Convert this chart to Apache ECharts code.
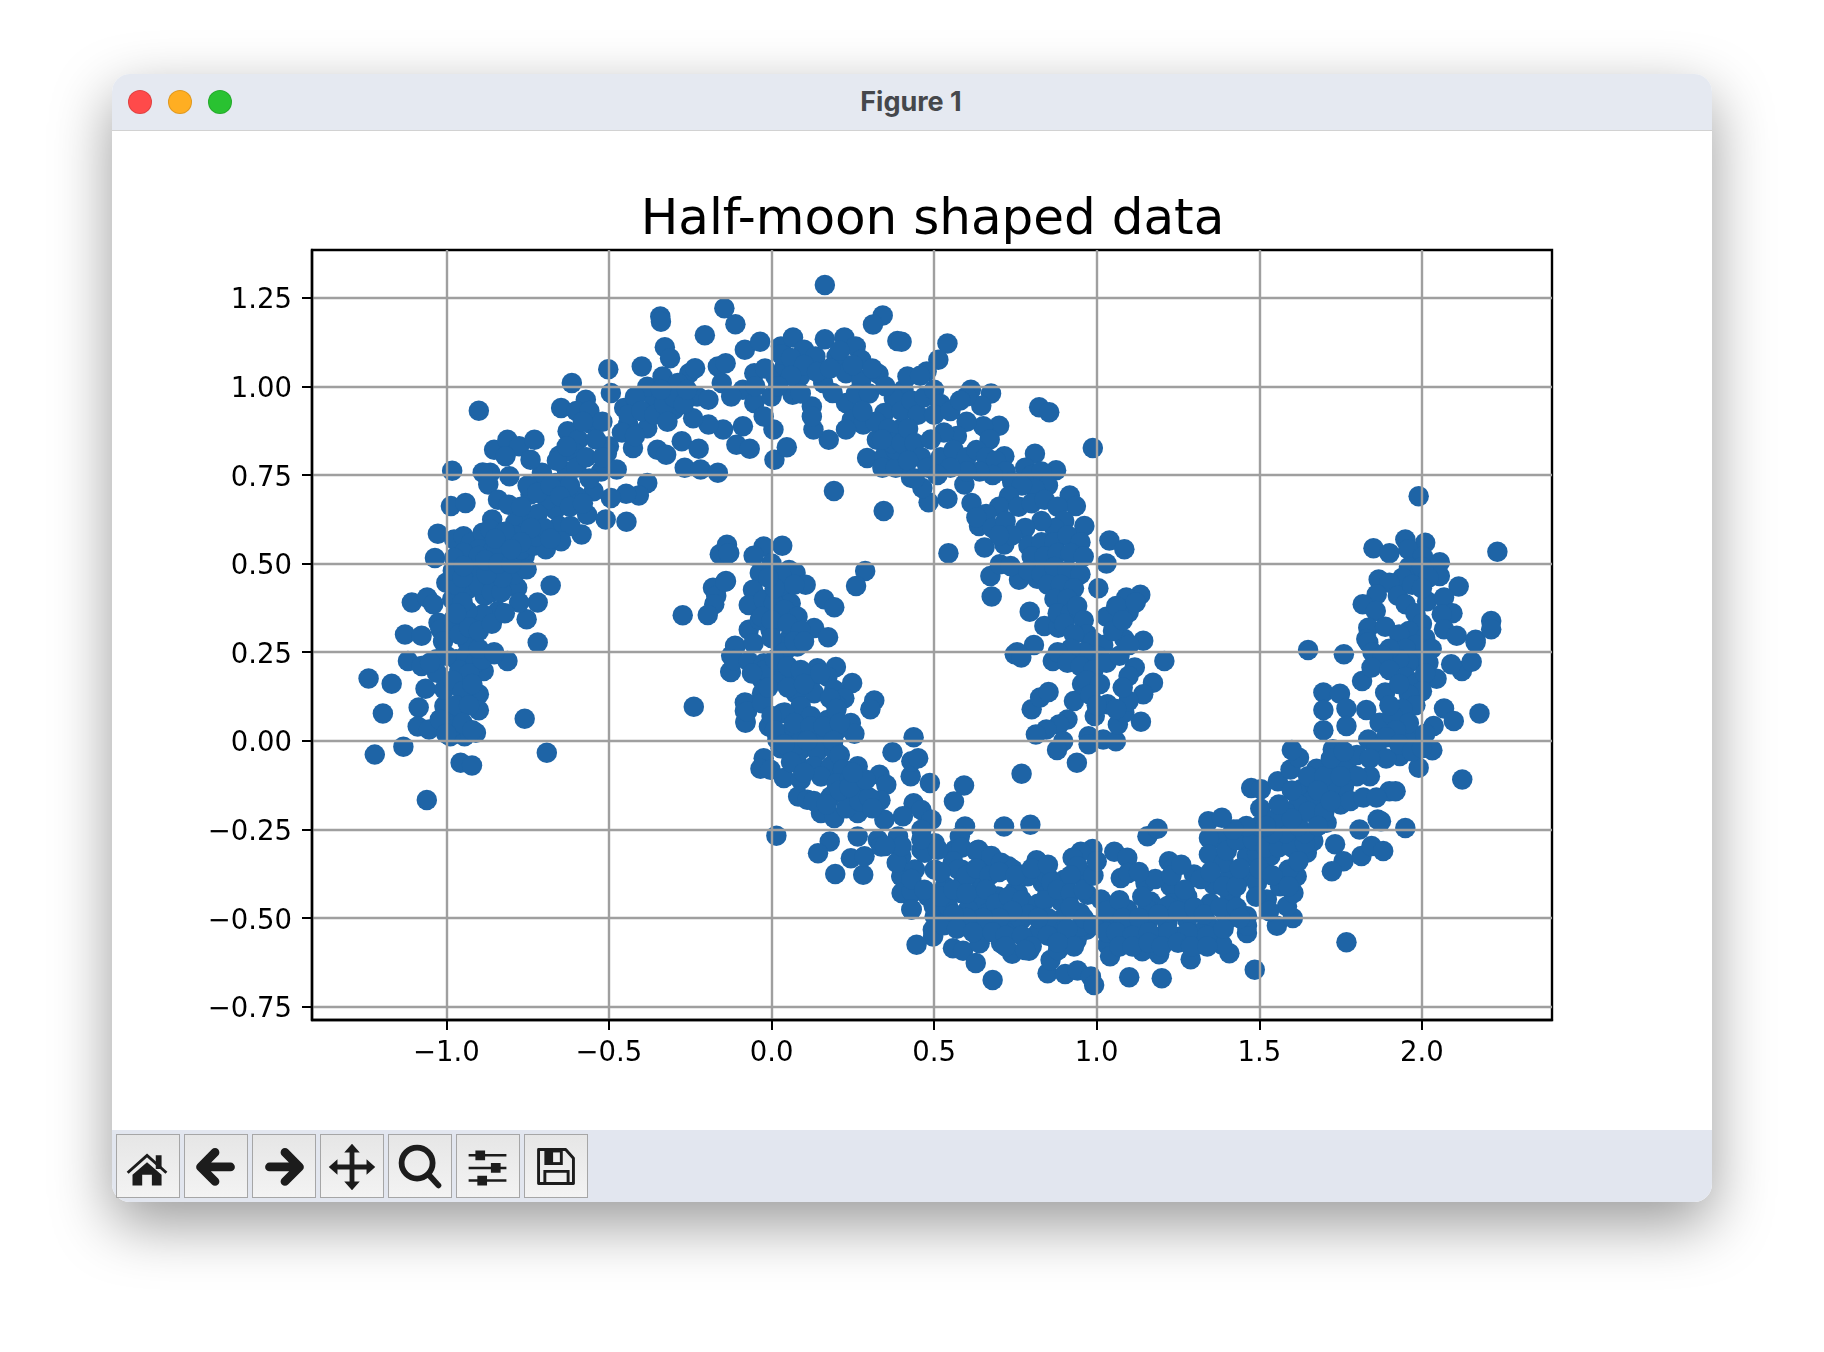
<!DOCTYPE html>
<html>
<head>
<meta charset="utf-8">
<title>Figure 1</title>
<script src="https://cdn.jsdelivr.net/npm/echarts@6/dist/echarts.min.js"></script>
<style>
html, body { margin: 0; padding: 0; background: #fff; width: 1824px; height: 1352px; overflow: hidden; }
#win { position: absolute; left: 112px; top: 74px; width: 1600px; height: 1128px; background: #fff; border-radius: 18px; box-shadow: 0 22px 60px rgba(0,0,0,.4); }
#bar { position: absolute; left: 0; top: 0; right: 0; height: 56px; background: #e5e9f1; border-bottom: 1px solid #d2d2d2; border-radius: 18px 18px 0 0; }
#bar i { position: absolute; top: 16px; width: 22px; height: 22px; border-radius: 50%; border: 1px solid rgba(0,0,0,.12); }
#bar b { position: absolute; left: 0; width: 1598px; top: 11px; text-align: center; font: 700 27px Inter, sans-serif; color: #45474b; }
#tools { position: absolute; left: 0; right: 0; bottom: 0; height: 72px; background: #e2e6ef; border-radius: 0 0 18px 18px; }
#tools svg { position: absolute; top: 4px; width: 62px; height: 62px; border: 1px solid #a6a6a6; background: linear-gradient(#e6e6e6, #f3f3f3); }
#main { position: absolute; left: 0; top: 0; width: 1824px; height: 1352px; }
</style>
</head>
<body>
<div id="win">
  <div id="bar">
    <i style="left:16px;background:#ff4a4a"></i>
    <i style="left:56px;background:#ffae22"></i>
    <i style="left:96px;background:#29c231"></i>
    <b>Figure 1</b>
  </div>
  <div id="tools">
    <svg style="left:4px" viewBox="0 0 64 64"><path d="M11 39L31 21L51 39" fill="none" stroke="#1c1c1c" stroke-width="3"/><path d="M40 21h6v14h-6zM16 41L31 28L46 41V52H36V41H26V52H16Z" fill="#1c1c1c"/></svg>
    <svg style="left:72px" viewBox="0 0 64 64"><path d="M47 33H19M31 18L16 33L31 48" fill="none" stroke="#1c1c1c" stroke-width="9" stroke-linecap="round" stroke-linejoin="round"/></svg>
    <svg style="left:140px" viewBox="0 0 64 64"><path d="M17 33H45M33 18L48 33L33 48" fill="none" stroke="#1c1c1c" stroke-width="9" stroke-linecap="round" stroke-linejoin="round"/></svg>
    <svg style="left:208px" viewBox="0 0 64 64"><path d="M32 14V52M13 33H51" stroke="#1c1c1c" stroke-width="5"/><path d="M32 9L40 18H24ZM32 57L40 48H24ZM8 33L17 25V41ZM56 33L47 25V41Z" fill="#1c1c1c"/></svg>
    <svg style="left:276px" viewBox="0 0 64 64"><circle cx="29" cy="29" r="16" fill="none" stroke="#1c1c1c" stroke-width="6"/><path d="M41 41L51 52" stroke="#1c1c1c" stroke-width="6" stroke-linecap="round"/></svg>
    <svg style="left:344px" viewBox="0 0 64 64"><path d="M12 21H51M12 34H51M12 47H51" stroke="#1c1c1c" stroke-width="2.6"/><path d="M19 16h10v10h-10zM35 29h10v10h-10zM21 42h10v10h-10z" fill="#1c1c1c"/></svg>
    <svg style="left:412px" viewBox="0 0 64 64"><path d="M14 15H42L50 24V50H14Z" fill="none" stroke="#1c1c1c" stroke-width="3" stroke-linejoin="round"/><path d="M20 15H39V31H20Z" fill="#1c1c1c"/><path d="M29 18H36V28H29Z" fill="#eee"/><path d="M20.5 37.5H44.5V50H20.5Z" fill="none" stroke="#1c1c1c" stroke-width="3"/></svg>
  </div>
</div>
<div id="main"></div>
<script>
const xTicks = [-1, -0.5, 0, 0.5, 1, 1.5, 2];
const yTicks = [-0.75, -0.5, -0.25, 0, 0.25, 0.5, 0.75, 1, 1.25];

// points, one list per stretch of each moon
const upperMoonLeft = [
[-1.239,.176],[-1.168,.161],[-1.064,.147],[-1.085,.094],[-1.195,.077],[-1.088,.04],[-1.053,.032],[-1.132,-.017],[-1.22,-.039],[-.956,-.062],[-.921,-.07],[-1.06,-.167],[-.759,.062],[-.691,-.034],
[-1.118,.225],[-1.076,.211],[-1.029,.192],[-.885,.197],[-.812,.225],[-.853,.244],[-.9,.131],[-.9,.086],[-.909,.023],[-.944,.013],[-.988,.013],[-1.006,.051],[-.971,.06],[-1.006,.098],[-.953,.164],[-.947,.117],[-1.006,.145],
[-.97,.23],[-.94,.24],[-.91,.22],[-.96,.2],[-.93,.19],[-.98,.17],[-.95,.14],[-.92,.16],[-.97,.1],[-.93,.1],[-.98,.04],[-.95,.05],[-.92,.03],[-1.02,.06],[-1.0,.02],[-1.03,.23],[-1.0,.24],[-1.05,.22],[-.89,.23],
[-1.127,.30],[-1.076,.296],[-1.106,.39],[-1.059,.404],[-1.04,.385],[-1.024,.333],[-1.035,.516],[-1.026,.584],[-.986,.662],[-.941,.671],[-.982,.762],[-.90,.931],[-.614,1.009],[-.502,1.048],
[-.567,.638],[-.584,.582],[-.51,.624],[-.446,.618],[-.679,.438],[-.719,.39],[-.753,.343],[-.719,.277],
[-.976,.568],[-.947,.577],[-.924,.559],[-.888,.587],[-.859,.624],[-.865,.596],[-.9,.54],[-.947,.53],[-.976,.516],[-1,.446],[-.935,.427],[-.982,.315],[-.935,.278],[-.9,.26],[-.853,.25],
[-.782,.432],[-.776,.39],[-.841,.366],[-.882,.409],[-.888,.357],[-.935,.366],[-.982,.399],[-1.018,.315],[-.98,.34],[-1.01,.28],[-.96,.3],[-.93,.32],[-.9,.31],[-.86,.33],[-.82,.36],[-.97,.44],[-.95,.39],[-.92,.47],[-.9,.44],[-.86,.42],[-.83,.42],[-.79,.47],[-.98,.48],[-.95,.46],[-.97,.36],
[-.759,.521],[-.806,.54],[-.853,.54],[-.753,.484],[-.829,.46],[-.876,.469],[-.9,.521],[-.947,.493],[-.88,.51],[-.84,.5],[-.8,.5],[-.77,.54],[-.73,.55],
[-.647,.939],[-.571,.962],[-.494,.981],[-.453,.939],[-.627,.873],[-.559,.896],[-.594,.849],[-.653,.804],[-.606,.812],[-.5,.831],[-.506,.812],[-.426,.826],
[-.382,.727],[-.408,.692],[-.447,.697],[-.494,.685],[-.476,.765],[-.524,.76],[-.547,.704],[-.6,.69],[-.665,.727],[-.741,.695],[-.706,.756],[-.806,.746],[-.865,.756],[-.888,.757],[-.871,.723],[-.841,.68],[-.808,.666],[-.788,.615],[-.735,.629],[-.759,.587],[-.665,.652],[-.653,.606],[-.618,.606],[-.647,.563],[-.694,.54],[-.724,.577],
[-.853,.821],[-.812,.849],[-.776,.831],[-.729,.849],[-.818,.803],[-.741,.793],[-.712,.727],[-.629,.76],
[-.6,.93],[-.56,.93],[-.52,.9],[-.54,.85],[-.6,.77],[-.57,.8],[-.52,.8],[-.56,.74],[-.62,.72],[-.69,.68],[-.72,.64],[-.77,.66],[-.75,.72],[-.72,.7],[-.68,.72],[-.65,.69],[-.62,.66],[-.58,.67],[-.7,.6],[-.68,.57],[-.79,.58],[-.82,.59],[-.85,.57],[-.74,.6],[-.77,.56],[-.8,.54],[-.66,.79],[-.63,.83],[-.58,.9]
];

const upperMoonTop = [
[-.399,1.056],[-.342,1.197],[-.34,1.182],[-.328,1.11],[-.205,1.144],[-.145,1.22],[-.111,1.175],[.164,1.286],[.342,1.20],[.312,1.174],[.387,1.128],[.192,.705],[.345,.648],
[-.351,.821],[-.324,.807],[-.276,.845],[-.224,.824],[-.267,.77],[-.218,.765],[-.165,.756],[-.108,.835],[-.067,.824],[.009,.793],[.047,.828],[.176,.849],[.129,.878],[.006,.878],[-.088,.887],[-.149,.878],[-.194,.892],[-.241,.91],[-.3,.934],[-.382,.882],[-.441,.892],[-.365,.971],[-.382,.999],[-.312,1.079],[-.253,1.037],[-.235,1.051],[-.335,1.028],[-.288,1.009],[-.229,.971],[-.194,.962],[-.165,1.056],[-.141,1.065],[-.082,1.103],[-.035,1.126],[-.153,1.009],[-.088,.99],[-.053,1.037],[-.124,.971],[-.053,.953],[-.024,.915],[0,.971],[.012,1.028],[.029,1.112],[.066,1.138],[.1,1.103],[.135,1.084],[.041,1.056],[.088,1.028],[.065,.976],[.124,.943],[.124,.915],[.164,1.133],[.224,1.138],[.259,1.112],[.276,1.075],[.2,1.084],[.229,1.037],[.159,1.009],[.276,1.018],[.329,1.035],[.229,.953],[.188,.981],[.406,.99],[.376,.967],[.347,.925],[.247,.906],[.282,.892],[.229,.878],[.324,.849],[.294,.798],[.347,.803],[.341,.77],[.382,.77],[.429,.742],[.418,1.028],[.394,.878],[.382,.821],
[-.42,.97],[-.44,.92],[-.4,.93],[-.36,.92],[-.33,.95],[-.3,.97],[-.27,.95],[-.26,.99],[-.34,.99],[-.32,.9],[-.46,.87],[-.42,.86],[-.05,1.0],[-.02,1.05],[.03,1.09],[.06,1.08],[.1,1.06],[.06,1.03],[.14,1.04],[.18,1.05],[.21,1.1],[.25,1.06],[.02,1.0],[.09,.98],[.26,.98],[.3,.98],[.32,.9],[.28,.93],[.36,.88],[.37,.84],[.34,.85],[.4,.93],[.4,.84],[.35,1.0],[.31,1.05]
];

const upperMoonRight = [
[.541,1.121],[.513,1.075],[.477,1.042],[.457,1.03],[.40,1.126],[.613,.99],[.675,.98],[.645,.945],[.6,.971],[.823,.941],[.854,.927],[.7,.889],[.651,.887],[.671,.85],[.988,.826],[.716,.803],[.81,.81],[.875,.763],[.917,.692],[.962,.606],[.936,.662],[1.039,.565],[1.085,.54],[1.03,.5],[1.005,.43],[1.134,.412],[1.091,.404],[1.098,.362],[.677,.407],[.673,.465],[.655,.545],[.716,.554],[.544,.529],[.615,.671],[.541,.683],[.483,.673],[.464,.713],[.593,.723],[.761,.454],[.817,.457],[.794,.364],[.839,.324],[.882,.319],[.702,.498],[.735,.493],[.638,.606],[1.143,.282],[1.085,.287],[.807,.27],[.755,.25],
[.8,.089],[.826,.122],[.852,.138],[.748,.244],[.768,.235],[.865,.225],[1.208,.225],[1.117,.207],[1.098,.183],[1.173,.164],[1.143,.131],[1.033,.103],[.93,.112],[.955,.16],[.994,.07],[.91,.06],[.884,.046],[.845,.032],[.813,.018],[.897,-.001],[.878,-.026],[.975,.013],[.975,-.01],[1.02,.004],[1.059,-.001],[1.065,.046],[1.136,.054],[1.085,.079],[1.098,.112],[.939,-.062],[.769,-.093],
[.43,.96],[.45,.92],[.42,.88],[.44,.84],[.47,.97],[.5,.99],[.52,.95],[.5,.92],[.55,.93],[.58,.96],[.6,.9],[.57,.86],[.53,.87],[.49,.85],[.46,.8],[.42,.79],[.44,.74],[.48,.77],[.52,.8],[.56,.82],[.6,.8],[.63,.82],[.66,.8],[.69,.79],[.72,.76],[.68,.75],[.64,.76],[.6,.76],[.55,.77],[.51,.75],[.74,.73],[.78,.77],[.8,.75],[.83,.76],[.85,.72],[.81,.71],[.77,.72],[.73,.69],[.7,.66],[.66,.64],[.63,.63],[.68,.6],[.72,.62],[.76,.66],[.8,.67],[.84,.68],[.88,.66],[.9,.62],[.87,.6],[.83,.62],[.78,.6],[.74,.58],[.7,.58],[.79,.55],[.83,.56],[.87,.56],[.91,.58],[.95,.56],[.8,.52],[.84,.52],[.88,.53],[.92,.53],[.96,.52],[.79,.48],[.83,.47],[.87,.49],[.91,.48],[.95,.47],[.85,.44],[.89,.44],[.93,.43],[.87,.4],[.91,.4],[.88,.36],[.92,.36],[.9,.33],[.94,.38],[.96,.34],[.97,.3],[.93,.3],[.99,.28],[1.03,.35],[1.02,.27],[1.05,.31],[1.06,.38],[1.12,.39],[1.08,.34],[1.0,.24],[.96,.25],[.92,.26],[.88,.25],[.91,.22],[.95,.21],[.99,.2],[1.03,.22],[.97,.17],[1.01,.16],[.98,.13],[1.0,.1],[1.07,.24],[1.1,.27],[1.08,.15],[1.06,.09]
];

const lowerMoonLeft = [
[-.145,.535],[-.13,.53],[-.159,.526],[-.18,.432],[-.17,.409],[-.176,.385],[-.196,.355],[-.273,.354],[-.239,.096],[-.125,.194],[-.124,.24],[-.082,.108],[-.082,.084],[-.08,.051],[-.112,.268],[-.14,.451],
[.033,.55],[-.024,.548],[-.055,.522],[-.137,.553],[-.132,.529],[.054,.482],[.074,.473],[.105,.44],[-.036,.473],[-.142,.449],[.162,.399],[.193,.377],[.131,.318],[.174,.292],[.288,.479],[.26,.437],
[-.057,.426],[-.07,.383],[-.024,.398],[.038,.426],[.059,.388],[.007,.388],[-.07,.313],[-.036,.341],[.028,.341],[.074,.351],[.059,.294],[-.003,.313],[-.111,.266],[-.055,.275],[.079,.266],[.028,.266],
[-.127,.195],[-.116,.228],[-.07,.224],[-.024,.219],[.028,.228],[.141,.205],[.198,.208],[.248,.163],[-.029,.172],[-.029,.134],[.028,.181],[.074,.172],[.121,.172],[.172,.181],[.193,.144],[.224,.12],[.131,.134],[.074,.134],[.316,.114],[.304,.089],
[-.077,.106],[-.08,.054],[-.075,.083],[-.029,.106],[-.008,.04],[.033,.078],[.09,.097],[.121,.069],[.172,.059],[.244,.05],[.255,.02],[.203,.031],[.1,.007],[.152,.017],[.059,.026],[.018,.003],[.028,-.021],
[-.024,-.049],[-.034,-.079],[-.003,-.082],[.038,-.105],[.09,-.025],[.141,-.03],[.193,-.025],[.079,-.063],[.131,-.072],[.182,-.072],[.09,-.11],[.082,-.157],[.11,-.166],[.152,-.101],[.152,-.204],[.193,-.218],[.182,-.157],[.234,-.157],[.265,-.204],[.265,-.148],[.265,-.072],[.275,-.115],[.213,-.101],
[.332,-.096],[.353,-.124],[.335,-.168],[.372,-.032],[.428,-.1],[.43,-.058],[.451,-.049],[.437,.01],[.487,-.119],[.592,-.126],[.561,-.171],[.437,-.176],[.404,-.213],[.461,-.195],[.347,-.223],[.492,-.223],[.015,-.268],
[.0,.5],[.03,.47],[.07,.44],[.01,.43],[-.01,.46],[.04,.37],[.08,.35],[-.03,.35],[.0,.34],[.05,.33],[.09,.31],[.0,.29],[.04,.25],[.07,.28],[.1,.28],[-.02,.2],[.01,.23],[.05,.21],[.09,.2],[-.06,.19],[-.01,.15],[.05,.15],[.1,.16],[.15,.19],[.04,.08],[.0,.07],[.2,.1],[.18,.12],[.2,.09],[.07,.05],[.12,.04],[.16,.04],[.21,.05],[.01,.03],[.08,-.01],[.04,-.01],[.11,.0],[.19,.0],[.06,-.06],[.21,-.04],[.1,-.09],[.22,-.08],[.2,-.12],[.24,-.11],[.13,-.17],[.23,-.19],[.17,-.18],[.21,-.14],[.27,-.17],[.3,-.16],[.24,-.13],[.29,-.11],[.31,-.19],[.25,-.09]
];

const lowerMoonBottom = [
[.179,-.284],[.143,-.317],[.196,-.376],[.282,-.378],[.244,-.331],[.265,-.27],[.327,-.279],[.389,-.27],[.461,-.251],[.502,-.289],[.595,-.242],[.715,-.242],[.796,-.237],[.816,-.34],
[.286,-.326],[.337,-.298],[.399,-.326],[.399,-.382],[.461,-.307],[.43,-.43],[.43,-.476],[.481,-.439],[.502,-.364],[.564,-.307],[.579,-.27],[.636,-.307],[.668,-.326],[.728,-.354],[.585,-.364],[.636,-.382],[.585,-.43],[.667,-.43],[.758,-.43],[.834,-.401],[.894,-.453],[.502,-.495],[.496,-.533],
[.584,-.302],[.63,-.311],[.676,-.325],[.706,-.344],[.742,-.363],[.815,-.337],[.558,-.34],[.4,-.382],[.385,-.344],[.4,-.429],[.431,-.425],[.431,-.476],[.499,-.467],[.497,-.552],[.446,-.575],[.558,-.585],[.589,-.592],[.628,-.627],[.68,-.675],[.601,-.524],[.64,-.571],[.706,-.571],[.74,-.601],[.792,-.592],[.747,-.524],[.849,-.656],[.903,-.658],[.941,-.648],[.982,-.665],[.992,-.689],[.858,-.618],[.881,-.59],[.938,-.563],[.969,-.533],[.88,-.533],[.819,-.542],
[1.1,-.667],[1.2,-.67],[1.289,-.616],[1.408,-.599],[1.386,-.575],[1.462,-.542],[1.462,-.522],[1.486,-.646],[1.554,-.522],[1.603,-.5],[1.033,-.575],[1.041,-.608],[1.14,-.594],[1.192,-.602],[1.309,-.575],
[1.054,-.313],[1.094,-.33],[.987,-.305],[.951,-.313],[.926,-.33],[.962,-.377],[1.074,-.387],[1.097,-.373],[1.15,-.401],[1.165,-.453],[.972,-.434],[.89,-.453],[.949,-.486],[.747,-.425],[1.222,-.34],[1.237,-.358],[1.299,-.377],[1.36,-.406],[1.156,-.269],[1.187,-.248],
[1.462,-.495],[1.401,-.505],[1.34,-.514],[1.278,-.505],[1.217,-.514],[1.156,-.514],[1.094,-.524],[1.033,-.514],[1.319,-.542],[1.258,-.552],[1.197,-.552],[1.135,-.552],[1.074,-.561],
[1.227,-.41],[1.232,-.458],[1.278,-.439],[1.35,-.458],[1.411,-.439],[1.452,-.382],[1.401,-.392],[1.462,-.325],[1.493,-.401],[1.523,-.448],[1.585,-.467],[1.605,-.429],[1.615,-.382],[1.59,-.363],[1.646,-.316],[1.666,-.283],[1.615,-.278],[1.564,-.278],[1.534,-.325],[1.493,-.316],[1.504,-.259],[1.442,-.278],[1.381,-.278],[1.345,-.274],[1.345,-.321],[1.391,-.344],[1.564,-.41],[1.432,-.25],
[1.733,-.292],[1.759,-.34],[1.723,-.368],[1.814,-.325],[1.845,-.297],[1.881,-.311],[1.808,-.25],[1.864,-.222],[1.707,-.231],
[.441,-.363],[.471,-.316],[.4,-.297],[.349,-.297],[.461,-.278],[.512,-.307],[.574,-.363],[.584,-.41],[.533,-.41],[.645,-.401],[.645,-.448],[.696,-.439],[.543,-.467],[.604,-.476],[.665,-.486],[.727,-.486],[.788,-.467],[.849,-.429],[.9,-.392],[.941,-.354],[.849,-.382],[.788,-.382],[.829,-.495],[.89,-.505],[.951,-.524],[.768,-.505],[.686,-.514],[.645,-.533],[1.043,-.467],[1.094,-.476],[1.156,-.476],[1.217,-.467],[1.013,-.448],
[.43,-.39],[.47,-.42],[.52,-.37],[.52,-.44],[.56,-.42],[.6,-.38],[.6,-.43],[.63,-.36],[.67,-.38],[.7,-.37],[.66,-.42],[.69,-.46],[.73,-.44],[.77,-.45],[.82,-.46],[.75,-.38],[.8,-.36],[.85,-.35],[.86,-.4],[.84,-.45],[.88,-.42],[.92,-.38],[.92,-.43],[.92,-.47],[.96,-.42],[.99,-.38],[1.0,-.34],[.96,-.5],[.85,-.5],[.79,-.49],[.74,-.48],[.7,-.5],[.65,-.5],[.6,-.5],[.56,-.49],[.53,-.52],[.57,-.53],[.62,-.54],[.68,-.54],[.72,-.55],[.77,-.55],[.82,-.5],[.85,-.55],[.91,-.53],[.93,-.58],[.88,-.57],[.8,-.58],[.72,-.58],[.78,-.59],[.99,-.52],[1.03,-.48],[1.07,-.45],[1.03,-.54],[1.08,-.5],[1.13,-.5],[1.19,-.49],[1.25,-.48],[1.3,-.47],[1.33,-.49],[1.38,-.47],[1.43,-.47],[1.44,-.5],[1.06,-.54],[1.11,-.55],[1.16,-.54],[1.22,-.54],[1.28,-.54],[1.34,-.55],[1.39,-.53],[1.07,-.58],[1.11,-.58],[1.16,-.57],[1.2,-.58],[1.25,-.57],[1.29,-.58],[1.34,-.58],[1.14,-.44],[1.18,-.39],[1.13,-.37],[1.23,-.38],[1.26,-.35],[1.27,-.42],[1.32,-.39],[1.35,-.37],[1.39,-.41],[1.43,-.41],[1.44,-.36],[1.4,-.31],[1.43,-.28],[1.48,-.28],[1.52,-.3],[1.56,-.3],[1.6,-.3],[1.64,-.29],[1.5,-.36],[1.54,-.38],[1.49,-.44],[1.53,-.48],[1.59,-.41],[1.62,-.34],[1.58,-.26],[1.54,-.26],[1.64,-.26],[1.5,-.24],[1.46,-.24],[1.42,-.25]
];

const lowerMoonRight = [
[1.99,.69],[1.949,.568],[1.851,.543],[1.9,.529],[2.01,.559],[2.232,.533],[1.958,.54],[2.003,.52],[2.055,.504],[1.96,.49],[1.99,.47],[1.94,.46],[2.055,.465],[2.113,.435],[1.867,.455],[1.9,.446],[1.861,.413],[1.818,.385],[1.858,.366],[1.926,.409],[1.95,.385],[2.016,.394],[2.068,.404],[2.094,.36],[2.061,.357],[2.068,.315],[2.107,.296],[2.165,.285],[2.213,.338],[2.213,.315],[1.835,.319],[1.887,.322],[1.829,.287],[1.65,.256],[1.76,.244],[1.835,.277],[1.848,.25],
[2.0,.49],[2.02,.46],[1.97,.44],[2.0,.43],[1.98,.36],[2.0,.33],[1.96,.31],[1.93,.3],[2.01,.29],[1.98,.27],[1.95,.26],[2.03,.26],[1.99,.23],[1.96,.22],[2.02,.22],[1.93,.23],[1.9,.26],[1.88,.24],
[1.816,.169],[1.845,.207],[1.9,.2],[1.829,.087],[1.887,.136],[1.87,.051],[1.835,.004],[1.697,.136],[1.748,.133],[1.697,.087],[1.768,.091],[1.768,.042],[1.697,.03],[2.068,.091],[2.098,.056],[2.177,.077],[2.045,.175],[2.123,.197],[2.153,.223],[2.09,.216],[2.165,.277],[2.032,-.027],[2.036,.042],[1.967,.018],[1.99,-.076],[1.932,-.043],[2.124,-.109],[1.9,-.142],[1.919,-.142],[1.874,-.227],[1.949,-.246],
[1.95,.18],[1.98,.16],[2.01,.19],[2.0,.14],[1.96,.13],[1.93,.16],[1.98,.1],[1.94,.09],[1.91,.07],[1.9,.1],[1.96,.05],[1.92,.03],[1.89,.01],[1.86,-.02],[1.89,-.05],[1.93,-.01],[1.97,-.03],[2.0,-.02],[2.01,.02],
[1.343,-.227],[1.385,-.217],[1.475,-.133],[1.505,-.137],[1.557,-.114],[1.596,-.081],[1.622,-.048],[1.6,-.026],[1.676,-.079],[1.726,-.024],[1.757,-.053],[1.503,-.191],[1.628,-.137],[1.673,-.128],
[1.74,-.09],[1.77,-.08],[1.8,-.04],[1.84,-.05],[1.84,-.1],[1.8,-.1],[1.76,-.13],[1.72,-.13],[1.69,-.16],[1.66,-.17],[1.62,-.18],[1.58,-.2],[1.55,-.22],[1.52,-.24],[1.62,-.24],[1.65,-.2],[1.7,-.2],[1.75,-.18],[1.78,-.17],[1.82,-.16],[1.86,-.16],[1.68,-.24],
[1.6,-.14],[1.65,-.1],[1.7,-.1],[1.72,-.05],[1.76,-.03],[1.68,-.14],[1.6,-.22],[1.56,-.18],[1.72,-.17],[1.75,-.1],
[1.768,-.568]
];

const points = [].concat(upperMoonLeft, upperMoonTop, upperMoonRight, lowerMoonLeft, lowerMoonBottom, lowerMoonRight);

const tickFont = { fontFamily: 'DejaVu Sans', fontSize: 27.5, color: '#000' };
const gridLine = { show: true, lineStyle: { color: '#9f9f9f', width: 2.4 } };
const frame = { show: true, onZero: false, lineStyle: { color: '#000', width: 2.4 } };
const ticks = { show: true, length: 10, lineStyle: { color: '#000', width: 2 } };

const chart = echarts.init(document.getElementById('main'), null, { renderer: 'canvas' });
chart.setOption({
    animation: false,
    backgroundColor: 'transparent',
    title: {
        text: 'Half-moon shaped data',
        left: 927.5,
        top: 191,
        textAlign: 'center',
        textStyle: { fontFamily: 'DejaVu Sans', fontSize: 50, fontWeight: 'normal', color: '#000' }
    },
    grid: { left: 312, top: 250, width: 1240, height: 770, show: true, borderColor: '#000', borderWidth: 2.4, backgroundColor: 'transparent' },
    xAxis: {
        type: 'value', min: -1.413, max: 2.4, z: 5,
        axisLine: frame, axisTick: Object.assign({ customValues: xTicks }, ticks),
        axisLabel: Object.assign({ customValues: xTicks, margin: 20,
            formatter: v => v.toFixed(1).replace('-', '\u2212') }, tickFont),
        splitLine: gridLine
    },
    yAxis: {
        type: 'value', min: -0.7876, max: 1.3845, z: 5,
        axisLine: frame, axisTick: Object.assign({ customValues: yTicks }, ticks),
        axisLabel: { customValues: yTicks, margin: 20,
            // rich text so the top padding nudges the digits down onto the tick
            formatter: v => '{t|' + v.toFixed(2).replace('-', '\u2212') + '}',
            rich: { t: Object.assign({ padding: [7, 0, 0, 0] }, tickFont) } },
        splitLine: gridLine
    },
    series: [{
        type: 'scatter',
        data: points,
        symbolSize: 20.5,
        itemStyle: { color: '#1e64a6', opacity: 1 },
        clip: false
    }]
});
</script>
</body>
</html>
